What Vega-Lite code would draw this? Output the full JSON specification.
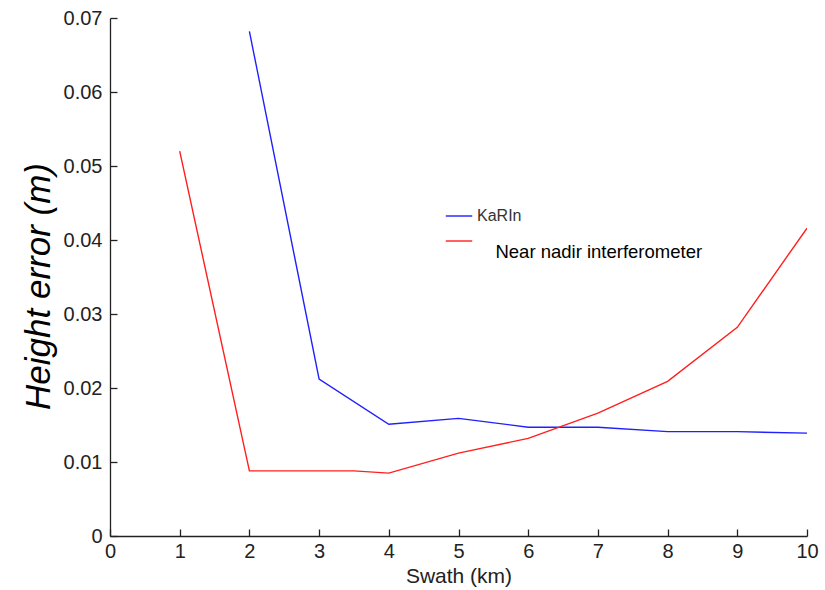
{
  "$schema": "https://vega.github.io/schema/vega-lite/v6.json",
  "width": 697,
  "height": 518,
  "autosize": "none",
  "padding": {"left": 110, "top": 18, "right": 18, "bottom": 54},
  "background": "white",
  "config": {
    "view": {"stroke": null},
    "font": "Liberation Sans"
  },
  "datasets": {
    "lines": [
      {"series": "KaRIn", "swath": 2, "err": 0.0682},
      {"series": "KaRIn", "swath": 3, "err": 0.0212},
      {"series": "KaRIn", "swath": 4, "err": 0.0151},
      {"series": "KaRIn", "swath": 5, "err": 0.0159},
      {"series": "KaRIn", "swath": 6, "err": 0.0147},
      {"series": "KaRIn", "swath": 7, "err": 0.0147},
      {"series": "KaRIn", "swath": 8, "err": 0.0141},
      {"series": "KaRIn", "swath": 9, "err": 0.0141},
      {"series": "KaRIn", "swath": 10, "err": 0.0139},
      {"series": "Near nadir interferometer", "swath": 1, "err": 0.052},
      {"series": "Near nadir interferometer", "swath": 2, "err": 0.0088},
      {"series": "Near nadir interferometer", "swath": 3, "err": 0.0088},
      {"series": "Near nadir interferometer", "swath": 3.5, "err": 0.0088},
      {"series": "Near nadir interferometer", "swath": 4, "err": 0.0085},
      {"series": "Near nadir interferometer", "swath": 5, "err": 0.0112},
      {"series": "Near nadir interferometer", "swath": 6, "err": 0.0132},
      {"series": "Near nadir interferometer", "swath": 7, "err": 0.0166},
      {"series": "Near nadir interferometer", "swath": 8, "err": 0.0209},
      {"series": "Near nadir interferometer", "swath": 9, "err": 0.0282},
      {"series": "Near nadir interferometer", "swath": 10, "err": 0.0416}
    ],
    "note": [
      {"swath": 5.53, "err": 0.0384, "label": "Near nadir interferometer"}
    ]
  },
  "resolve": {"axis": {"x": "independent", "y": "independent"}},
  "layer": [
    {
      "data": {"name": "lines"},
      "mark": {"type": "line", "strokeWidth": 1.4, "clip": true},
      "encoding": {
        "x": {
          "field": "swath", "type": "quantitative",
          "scale": {"domain": [0, 10], "nice": false, "zero": false},
          "axis": {
            "orient": "bottom",
            "title": "Swath (km)",
            "values": [0, 1, 2, 3, 4, 5, 6, 7, 8, 9, 10],
            "format": "d",
            "grid": false,
            "ticks": false,
            "domainColor": "#222", "domainWidth": 1.3,
            "labelFont": "Liberation Sans", "labelFontSize": 20, "labelColor": "#222",
            "labelPadding": 5, "labelFlush": false,
            "titleFont": "Liberation Sans", "titleFontSize": 21, "titleFontWeight": "normal", "titleColor": "#222",
            "titlePadding": 4
          }
        },
        "y": {
          "field": "err", "type": "quantitative",
          "scale": {"domain": [0, 0.07], "nice": false, "zero": false},
          "axis": {
            "orient": "left",
            "title": "Height error (m)",
            "values": [0, 0.01, 0.02, 0.03, 0.04, 0.05, 0.06, 0.07],
            "format": "~r",
            "grid": false,
            "ticks": false,
            "domainColor": "#222", "domainWidth": 1.3,
            "labelFont": "Liberation Sans", "labelFontSize": 20, "labelColor": "#222",
            "labelPadding": 8, "labelFlush": false,
            "titleFont": "Liberation Sans", "titleFontSize": 35, "titleFontWeight": "normal", "titleFontStyle": "italic", "titleColor": "#000",
            "titleAngle": -90, "titleBaseline": "middle", "titleAlign": "center",
            "titleX": -72, "titleY": 268
          }
        },
        "color": {
          "field": "series", "type": "nominal",
          "scale": {"domain": ["KaRIn", "Near nadir interferometer"], "range": ["#1f1fff", "#ff1f1f"]},
          "legend": {
            "title": null,
            "orient": "none",
            "legendX": 335,
            "legendY": 184,
            "symbolType": "stroke",
            "symbolSize": 700,
            "symbolStrokeWidth": 1.4,
            "labelFont": "Liberation Sans",
            "labelFontSize": 16,
            "labelColor": "#333",
            "labelOffset": 4,
            "rowPadding": 3,
            "labelExpr": "datum.label == 'KaRIn' ? 'KaRIn' : ''"
          }
        }
      }
    },
    {
      "data": {"name": "note"},
      "mark": {"type": "text", "align": "left", "baseline": "middle", "font": "Liberation Sans", "fontSize": 18.5, "color": "#000"},
      "encoding": {
        "x": {
          "field": "swath", "type": "quantitative",
          "axis": {
            "orient": "top", "offset": -518, "title": null,
            "values": [0, 1, 2, 3, 4, 5, 6, 7, 8, 9, 10],
            "labels": false, "domain": false, "grid": false,
            "ticks": true, "tickSize": 7, "tickColor": "#222", "tickWidth": 1.3
          }
        },
        "y": {
          "field": "err", "type": "quantitative",
          "axis": {
            "orient": "right", "offset": -697, "title": null,
            "values": [0, 0.01, 0.02, 0.03, 0.04, 0.05, 0.06, 0.07],
            "labels": false, "domain": false, "grid": false,
            "ticks": true, "tickSize": 7, "tickColor": "#222", "tickWidth": 1.3
          }
        },
        "text": {"field": "label"}
      }
    }
  ]
}
